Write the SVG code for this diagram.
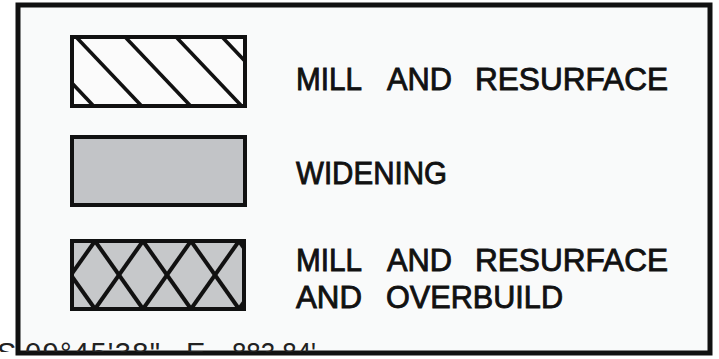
<svg xmlns="http://www.w3.org/2000/svg" width="719" height="359" viewBox="0 0 719 359">
<style>
.lbl{font-family:"Liberation Sans",Arial,sans-serif;font-size:32px;fill:#111;stroke:#111;stroke-width:0.9}
.box{stroke:#111;stroke-width:4}
.hatch{stroke:#111;stroke-width:3.6;fill:none}
.brg{font-family:"Liberation Sans",Arial,sans-serif;font-size:29px;fill:#222}
</style>
<defs>
<clipPath id="c1"><rect x="72" y="37" width="173" height="69"/></clipPath>
<clipPath id="c3"><rect x="72" y="241" width="172" height="68"/></clipPath>
<clipPath id="cb"><rect x="0" y="300" width="719" height="52"/></clipPath>
</defs>
<rect width="719" height="359" fill="#ffffff"/>
<rect id="frame" x="18" y="5" width="692" height="348" fill="#f9fafa" stroke="#111" stroke-width="5"/>
<g id="bearing" clip-path="url(#cb)">
<text class="brg" x="-3" y="363">S</text>
<text class="brg" x="25" y="363" textLength="135" lengthAdjust="spacing">09°45'38"</text>
<text class="brg" x="186" y="363">E</text>
<text class="brg" x="232" y="363" textLength="84" lengthAdjust="spacingAndGlyphs">883.84'</text>
</g>
<g id="node-mill">
<rect class="box" x="72" y="37" width="173" height="69" fill="#fbfbfb"/>
<g clip-path="url(#c1)" class="hatch">
<line x1="-57" y1="0" x2="93" y2="158"/>
<line x1="-7" y1="0" x2="143" y2="158"/>
<line x1="41" y1="0" x2="191" y2="158"/>
<line x1="90" y1="0" x2="240" y2="158"/>
<line x1="141" y1="0" x2="291" y2="158"/>
<line x1="187" y1="0" x2="337" y2="158"/>
</g>
<rect class="box" x="72" y="37" width="173" height="69" fill="none"/>
<text class="lbl" y="90"><tspan x="296" textLength="66" lengthAdjust="spacingAndGlyphs">MILL</tspan><tspan x="387" textLength="65" lengthAdjust="spacingAndGlyphs">AND</tspan><tspan x="475" textLength="193" lengthAdjust="spacingAndGlyphs">RESURFACE</tspan></text>
</g>
<g id="node-widening">
<rect class="box" x="72" y="137" width="173" height="68" fill="#c2c4c7"/>
<text class="lbl" x="296" y="184" textLength="151" lengthAdjust="spacingAndGlyphs">WIDENING</text>
</g>
<g id="node-overbuild">
<rect class="box" x="72" y="241" width="172" height="68" fill="#c6c8ca"/>
<g clip-path="url(#c3)" class="hatch" style="stroke-width:4">
<line x1="47" y1="241" x2="95" y2="309"/>
<line x1="95" y1="241" x2="143" y2="309"/>
<line x1="143" y1="241" x2="191" y2="309"/>
<line x1="191" y1="241" x2="239" y2="309"/>
<line x1="239" y1="241" x2="287" y2="309"/>
<line x1="95" y1="241" x2="47" y2="309"/>
<line x1="143" y1="241" x2="95" y2="309"/>
<line x1="191" y1="241" x2="143" y2="309"/>
<line x1="239" y1="241" x2="191" y2="309"/>
<line x1="287" y1="241" x2="239" y2="309"/>
</g>
<rect class="box" x="72" y="241" width="172" height="68" fill="none"/>
<text class="lbl" y="271"><tspan x="296" textLength="66" lengthAdjust="spacingAndGlyphs">MILL</tspan><tspan x="387" textLength="65" lengthAdjust="spacingAndGlyphs">AND</tspan><tspan x="475" textLength="193" lengthAdjust="spacingAndGlyphs">RESURFACE</tspan></text>
<text class="lbl" y="308"><tspan x="296" textLength="66" lengthAdjust="spacingAndGlyphs">AND</tspan><tspan x="386" textLength="177" lengthAdjust="spacingAndGlyphs">OVERBUILD</tspan></text>
</g>
<g id="connectors"/>
</svg>
